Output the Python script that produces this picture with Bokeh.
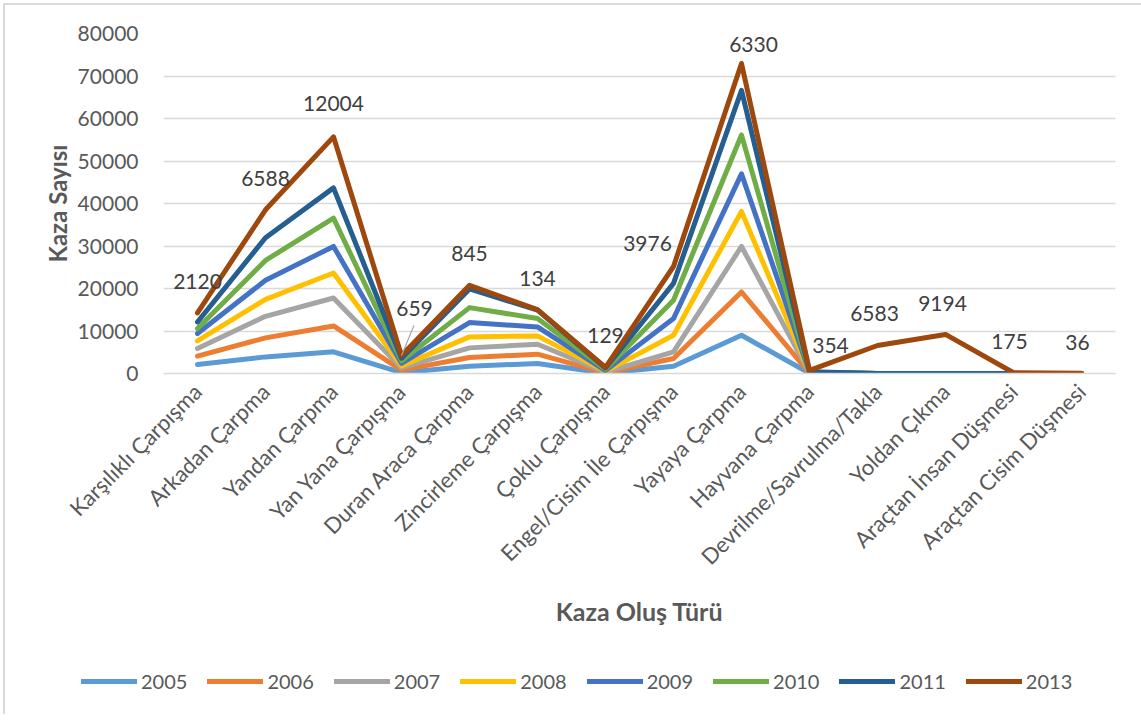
import numpy as np
from bokeh.plotting import figure
from bokeh.layouts import column
from bokeh.models import (ColumnDataSource, Range1d, FixedTicker, Legend, LegendItem)
from bokeh.core.properties import value
from bokeh.embed import file_html
from bokeh.resources import INLINE

categories = ["Karşılıklı Çarpışma", "Arkadan Çarpma", "Yandan Çarpma", "Yan Yana Çarpışma",
              "Duran Araca Çarpma", "Zincirleme Çarpışma", "Çoklu Çarpışma",
              "Engel/Cisim İle Çarpışma", "Yayaya Çarpma", "Hayvana Çarpma",
              "Devrilme/Savrulma/Takla", "Yoldan Çıkma", "Araçtan İnsan Düşmesi",
              "Araçtan Cisim Düşmesi"]

years = ["2005", "2006", "2007", "2008", "2009", "2010", "2011", "2013"]

# per-year values (the chart is a stacked line chart)
v2005 = [2110, 3910, 5090, 200, 1720, 2350, 50, 1720, 9000, 50, 0, 0, 0, 0]
v2006 = [1960, 4470, 6100, 600, 2040, 2190, 100, 1800, 10180, 50, 0, 0, 0, 0]
v2007 = [1800, 5080, 6580, 500, 2270, 2350, 150, 1570, 10720, 50, 0, 0, 0, 0]
v2008 = [1800, 4000, 5870, 500, 2580, 1960, 200, 3910, 8220, 50, 0, 0, 0, 0]
v2009 = [1720, 4460, 6260, 600, 3370, 2110, 200, 3920, 8850, 50, 0, 0, 0, 0]
v2010 = [1180, 4690, 6660, 600, 3520, 1960, 300, 4300, 9160, 50, 0, 0, 0, 0]
v2011 = [1560, 5330, 7120, 600, 4400, 1980, 300, 3980, 10490, 100, 0, 0, 0, 0]
v2013 = [2120, 6588, 12004, 659, 845, 134, 129, 3976, 6330, 354, 6583, 9194, 175, 36]

series = [v2005, v2006, v2007, v2008, v2009, v2010, v2011, v2013]
colors = ["#5B9BD5", "#ED7D31", "#A5A5A5", "#FFC000", "#4472C4", "#70AD47", "#255E91", "#9E480E"]

# data-label placement (screen px, relative to the 2013 point)
label_dx = [0, 0, 0, 13, 0, 0, 0, -26, 12, 21, -3, -3, -4, -4]
label_dy = [31, 31, 33, 47, 32, 31, 32, 23, 19, 25, 32, 31, 31, 31]

FONT = "Lato"
xs = np.arange(len(categories))
stacked = np.cumsum(np.array(series, dtype=float), axis=0)

p = figure(width=1136, height=650, output_backend="svg", toolbar_location=None,
           x_range=Range1d(-0.5, len(categories) - 0.5), y_range=Range1d(0, 80000),
           min_border_left=158, min_border_top=28, min_border_right=26, min_border_bottom=282)
p.frame_align = False
p.outline_line_color = None
p.background_fill_color = "white"
p.border_fill_color = "white"

p.xgrid.grid_line_color = None
p.ygrid.grid_line_color = "#D9D9D9"
p.ygrid.grid_line_width = 1.3
p.yaxis.ticker = FixedTicker(ticks=list(range(0, 80001, 10000)))
p.yaxis.axis_line_color = None
p.yaxis.major_tick_line_color = None
p.yaxis.minor_tick_line_color = None
p.yaxis.major_label_standoff = 19
p.yaxis.major_label_text_font = FONT
p.yaxis.major_label_text_font_size = "21px"
p.yaxis.major_label_text_color = "#595959"
p.yaxis.axis_label = "Kaza Sayısı"
p.yaxis.axis_label_text_font = FONT
p.yaxis.axis_label_text_font_style = "bold"
p.yaxis.axis_label_text_font_size = "24px"
p.yaxis.axis_label_text_color = "#595959"
p.yaxis.axis_label_standoff = 3

p.xaxis.ticker = FixedTicker(ticks=list(xs))
p.xaxis.major_label_overrides = {int(i): c for i, c in zip(xs, categories)}
p.xaxis.major_label_orientation = np.pi / 4
p.xaxis.axis_line_color = "#D9D9D9"
p.xaxis.axis_line_width = 1.3
p.xaxis.major_tick_line_color = None
p.xaxis.minor_tick_line_color = None
p.xaxis.major_label_standoff = 8
p.xaxis.major_label_text_font = FONT
p.xaxis.major_label_text_font_size = "22px"
p.xaxis.major_label_text_color = "#595959"
p.xaxis.axis_label = "Kaza Oluş Türü"
p.xaxis.axis_label_text_font = FONT
p.xaxis.axis_label_text_font_style = "bold"
p.xaxis.axis_label_text_font_size = "25px"
p.xaxis.axis_label_text_color = "#595959"
p.xaxis.axis_label_standoff = 14

for yr, col, ys in zip(years, colors, stacked):
    p.line(xs, ys, line_color=col, line_width=5, line_join="round", line_cap="round")

top = stacked[-1]
lab = ColumnDataSource(dict(x=xs, y=top, t=[str(v) for v in v2013],
                            dx=label_dx, dy=[-d for d in label_dy]))
p.text(x="x", y="y", text="t", x_offset="dx", y_offset="dy", source=lab,
       text_align="center", text_baseline="middle", text_font=value(FONT),
       text_font_size="21px", text_color="#404040")

# leader line for the displaced label of "Yan Yana Çarpışma"
px_x = 1.0 / 68.0
px_y = 80000.0 / 340.0
i = 3
p.segment(x0=[xs[i]], y0=[top[i]], x1=[xs[i] + 12.5 * px_x], y1=[top[i] + 30 * px_y],
          line_color="#A6A6A6", line_width=1.2)

# legend strip (same series drawn out of view, only their legend entries show)
lg = figure(width=1136, height=59, output_backend="svg", toolbar_location=None,
            x_range=Range1d(-100, -99), y_range=Range1d(-100, -99),
            min_border_left=0, min_border_right=0, min_border_top=0, min_border_bottom=0)
lg.frame_align = False
lg.axis.visible = False
lg.grid.visible = False
lg.outline_line_color = None
lg.background_fill_color = "white"
lg.border_fill_color = "white"
items = []
for yr, col, ys in zip(years, colors, stacked):
    r = lg.line(xs, ys, line_color=col, line_width=5, line_cap="round")
    items.append(LegendItem(label=yr, renderers=[r]))
legend = Legend(items=items, orientation="horizontal", location=(76, 21),
                glyph_width=56, glyph_height=20, label_standoff=4, spacing=20,
                padding=0, margin=0, border_line_color=None, background_fill_alpha=0,
                label_text_font=FONT, label_text_font_size="20px", label_text_color="#595959")
lg.add_layout(legend, "center")

layout = column(p, lg, spacing=0)
layout.styles = {"margin-left": "3px", "margin-top": "3px",
                 "border-top": "2px solid #D9D9D9", "border-left": "2px solid #D9D9D9"}

open("out.html", "w").write(file_html(layout, INLINE))
